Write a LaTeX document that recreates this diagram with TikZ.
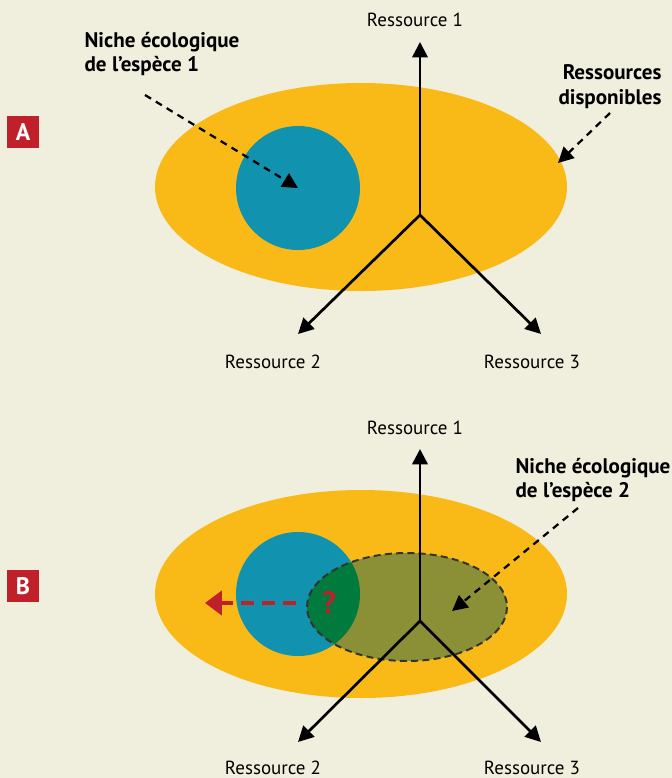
\documentclass[tikz,border=0pt]{standalone}
\usepackage{fontspec}
\setmainfont{PT Sans}
\usepackage{tikz}
\usetikzlibrary{arrows.meta,positioning}
\definecolor{fond}{HTML}{F0EEDC}
\definecolor{ressorange}{HTML}{F9BA17}
\definecolor{nichebleu}{HTML}{1192AF}
\definecolor{nicheolive}{HTML}{8B8F36}
\definecolor{nichevert}{HTML}{007A3D}
\definecolor{rougeA}{HTML}{C0202A}

\begin{document}
\begin{tikzpicture}[x=0.025cm,y=-0.025cm,
  axe/.style={line width=1.9pt,-{Triangle[length=11pt,width=11pt]}},
  fleche/.style={line width=1.6pt,dash pattern=on 5pt off 4pt,-{Triangle[length=11pt,width=11pt]}},
  lettre/.style={fill=rougeA,text=white,font=\bfseries\fontsize{17}{17}\selectfont,minimum size=0.78cm,inner sep=0pt},
  etiq/.style={font=\fontsize{13.5}{16}\selectfont},
  titre/.style={font=\bfseries\fontsize{15}{17.7}\selectfont,align=left}]
\useasboundingbox[fill=fond] (0,0) rectangle (672,778);

% panneau A
\node[lettre] (lA) at (23,132) {A};
\fill[ressorange] (361,187) ellipse [x radius=206, y radius=104];
\fill[nichebleu] (298,188) circle [radius=62];
\coordinate (oA) at (420,215);
\coordinate (h1A) at (420,42);
\coordinate (h2A) at (298,334);
\coordinate (h3A) at (541,334);
\node[etiq] (r1A) at (415,20) {Ressource 1};
\node[etiq] (r2A) at (273,362) {Ressource 2};
\node[etiq] (r3A) at (532,362) {Ressource 3};
\draw[axe] (oA) -- (h1A);
\draw[axe] (oA) -- (h2A);
\draw[axe] (oA) -- (h3A);
\node[titre] (n1) at (162,54) {Niche écologique\\de l’espèce 1};
\node[titre,align=right] (dispo) at (610,87) {Ressources\\disponibles};
\coordinate (cn1) at (298,188);
\coordinate (cdispo) at (558,163);
\draw[fleche] (145,95) -- (cn1);
\draw[fleche] (610,113) -- (cdispo);

% panneau B
\node[lettre] (lB) at (23,586) {B};
\fill[ressorange] (361,594) ellipse [x radius=206, y radius=104];
\fill[nichebleu] (298,594) circle [radius=62];
\fill[nicheolive] (407,607) ellipse [x radius=100, y radius=54];
\begin{scope}
  \clip (407,607) ellipse [x radius=100, y radius=54];
  \fill[nichevert] (298,594) circle [radius=62];
\end{scope}
\draw[line width=1.4pt,dash pattern=on 5pt off 3pt,black!80] (407,607) ellipse [x radius=100, y radius=54];
\coordinate (oB) at (420,621);
\coordinate (h1B) at (420,449);
\coordinate (h2B) at (298,742);
\coordinate (h3B) at (541,742);
\node[etiq] (r1B) at (415,428) {Ressource 1};
\node[etiq] (r2B) at (273,768) {Ressource 2};
\node[etiq] (r3B) at (532,768) {Ressource 3};
\draw[axe] (oB) -- (h1B);
\draw[axe] (oB) -- (h2B);
\draw[axe] (oB) -- (h3B);
\node[titre] (n2) at (593,480) {Niche écologique\\de l’espèce 2};
\coordinate (cn2) at (452,611);
\draw[fleche] (578,508) -- (cn2);
\node[text=rougeA,font=\bfseries\fontsize{22}{22}\selectfont] (quest) at (329,603) {?};
\coordinate (exclu) at (205,603);
\draw[rougeA,line width=3pt,dash pattern=on 9pt off 6pt,-{Triangle[length=12pt,width=17pt]}] (296,603) -- (exclu);
\end{tikzpicture}
\end{document}
